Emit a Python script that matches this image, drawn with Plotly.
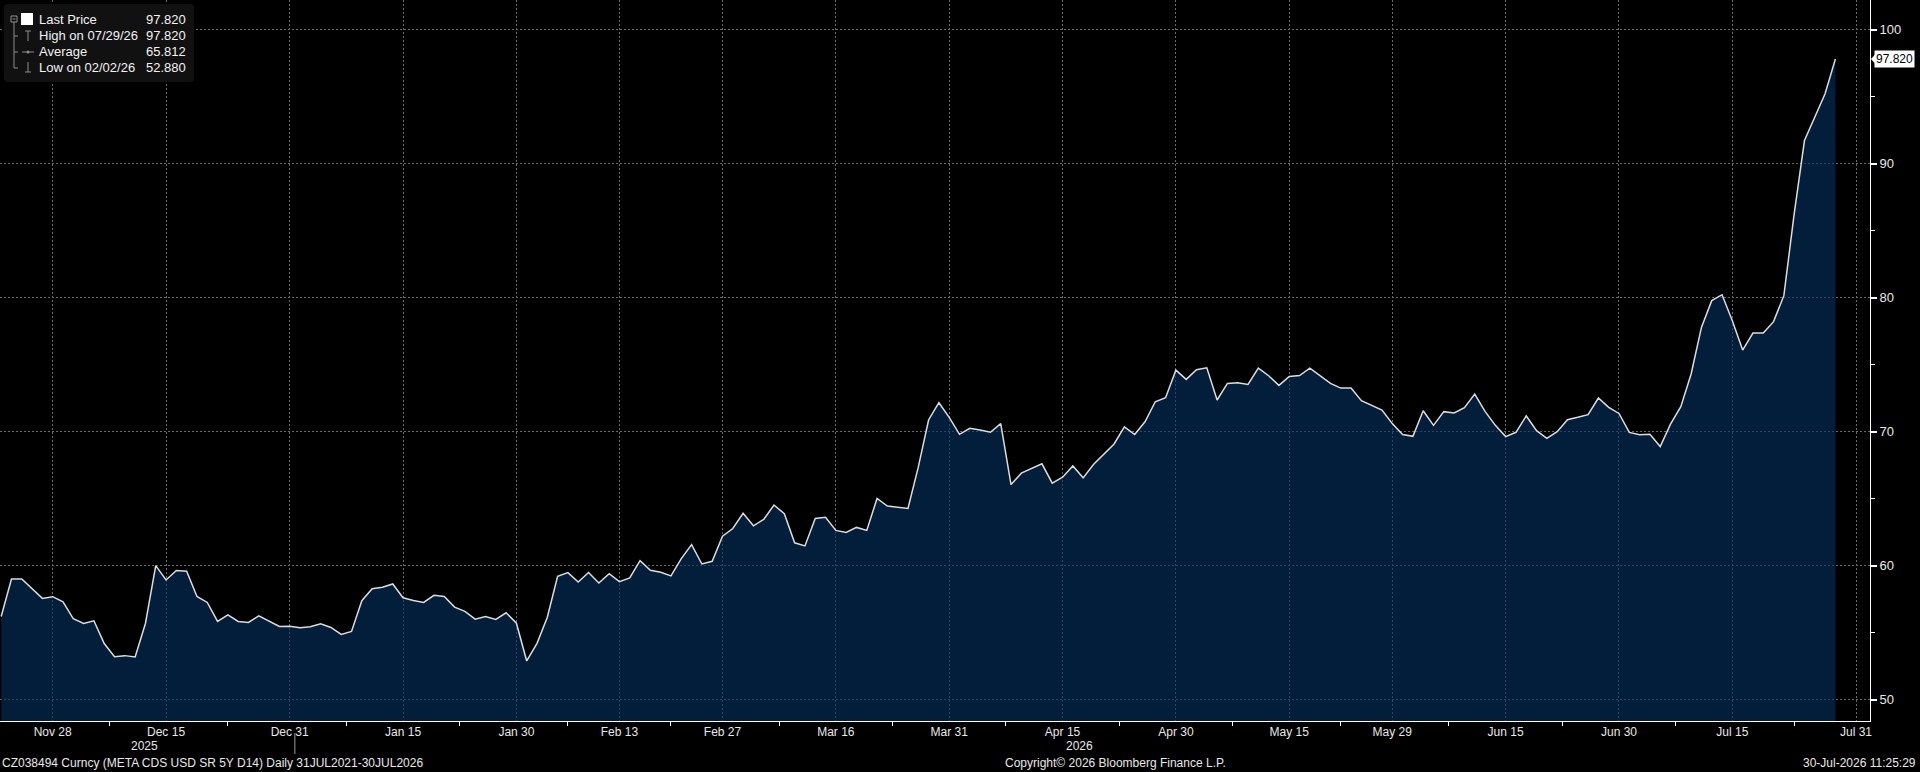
import numpy as np
import pandas as pd
import plotly.graph_objects as go

# META 5Y senior CDS, daily (weekdays)
START = "2025-11-21"
END = "2026-07-29"

cds = [
    # Nov 21 - Jan 14
    56.2, 59.0, 59.0, 58.25, 57.55, 57.68, 57.3, 56.03, 55.68, 55.88,
    54.18, 53.2, 53.28, 53.18, 55.68, 60.0, 58.93, 59.63, 59.58, 57.7,
    57.25, 55.83, 56.33, 55.83, 55.76, 56.25, 55.83, 55.46, 55.48, 55.36,
    55.43, 55.66, 55.38, 54.86, 55.08, 57.38, 58.28, 58.38, 58.63,
    # Jan 15 - Mar 11
    57.6, 57.4, 57.25, 57.78, 57.7, 56.9, 56.58, 56.0, 56.2, 55.98,
    56.48, 55.7, 52.88, 54.2, 56.15, 59.2, 59.48, 58.78, 59.48, 58.7,
    59.4, 58.8, 59.08, 60.37, 59.65, 59.5, 59.23, 60.52, 61.57, 60.12,
    60.32, 62.2, 62.77, 63.9, 62.97, 63.45, 64.52, 63.87, 61.7, 61.47,
    # Mar 12 - May 5
    63.52, 63.6, 62.63, 62.48, 62.85, 62.63, 65.01, 64.44, 64.37, 64.27,
    67.35, 70.87, 72.16, 71.07, 69.8, 70.25, 70.12, 69.95, 70.6, 66.05,
    66.9, 67.27, 67.6, 66.15, 66.6, 67.44, 66.55, 67.54, 68.31, 69.08,
    70.35, 69.78, 70.74, 72.23, 72.53, 74.59, 73.9, 74.62, 74.76,
    # May 6 - Jun 29
    72.36, 73.6, 73.65, 73.52, 74.74, 74.17, 73.45, 74.12, 74.19, 74.74,
    74.14, 73.6, 73.25, 73.25, 72.31, 71.99, 71.61, 70.6, 69.78, 69.65,
    71.56, 70.47, 71.49, 71.39, 71.79, 72.8, 71.51, 70.47, 69.63, 69.95,
    71.17, 70.07, 69.5, 70.0, 70.89, 71.07, 71.27, 72.51, 71.81,
    # Jun 30 - Jul 29
    71.36, 69.94, 69.76, 69.81, 68.89, 70.56, 71.86, 74.3, 77.78, 79.78,
    80.22, 78.28, 76.09, 77.36, 77.36, 78.21, 80.15, 86.25, 91.73, 93.47,
    95.22, 97.82,
]
dates = pd.bdate_range(START, END)
assert len(dates) == len(cds)

AVERAGE = 65.812

x_tick_dates = ["2025-11-28", "2025-12-15", "2025-12-31", "2026-01-15", "2026-01-30",
                "2026-02-13", "2026-02-27", "2026-03-16", "2026-03-31", "2026-04-15",
                "2026-04-30", "2026-05-15", "2026-05-29", "2026-06-15", "2026-06-30",
                "2026-07-15", "2026-07-31"]
x_tick_labels = ["Nov 28", "Dec 15", "Dec 31", "Jan 15", "Jan 30", "Feb 13", "Feb 27",
                 "Mar 16", "Mar 31", "Apr 15", "Apr 30", "May 15", "May 29", "Jun 15",
                 "Jun 30", "Jul 15", "Jul 31"]
y_ticks = [50, 60, 70, 80, 90, 100]
y_minor = [55, 65, 75, 85, 95]
years = ["2025", "2026"]

FONT = "Liberation Sans, Arial, sans-serif"
GRID = "#6a6a6a"
TXT = "#e8e8e8"

# plot area in pixels, used to place the header box / footer texts
PW, PH = 1870, 721


def px(x):
    return x / PW


def py(y):
    return 1 - y / PH


# small tick marks sit half way between the labelled dates (in business days)
base = np.datetime64(x_tick_dates[0])
idx = [np.busday_count(base, np.datetime64(d)) for d in x_tick_dates]
mid_ticks = []
for a, b in zip(idx[:-1], idx[1:]):
    m = (a + b) / 2
    d = np.busday_offset(base, int(np.floor(m)), roll="forward")
    mid_ticks.append(pd.Timestamp(d) + pd.Timedelta(hours=24 * (m - np.floor(m))))

fig = go.Figure()
fig.add_trace(go.Scatter(
    x=dates, y=cds, mode="lines",
    line=dict(color="#dcdcdc", width=1.5),
    fill="tozeroy", fillcolor="rgba(3,48,94,0.62)",
    hoverinfo="x+y",
))

fig.update_layout(
    width=1920, height=772,
    margin=dict(l=0, r=50, t=0, b=51),
    paper_bgcolor="black", plot_bgcolor="black",
    showlegend=False,
    font=dict(family=FONT, size=12, color=TXT),
    xaxis=dict(
        type="date",
        range=["2025-11-20 21:16", "2026-08-03 08:37"],
        rangebreaks=[dict(bounds=["sat", "mon"])],
        tickmode="array", tickvals=x_tick_dates, ticktext=x_tick_labels,
        ticks="", showgrid=True, gridcolor=GRID, griddash="2px,2px", gridwidth=1,
        showline=True, linecolor="white", linewidth=1, zeroline=False,
        tickfont=dict(size=12, color=TXT),
        minor=dict(tickmode="array", tickvals=mid_ticks, ticks="outside",
                   ticklen=4, tickcolor="white", tickwidth=1, showgrid=False),
    ),
    yaxis=dict(
        side="right", range=[48.4, 102.22],
        tickmode="array", tickvals=y_ticks, ticktext=[str(v) for v in y_ticks],
        ticks="outside", ticklen=6, tickwidth=2, tickcolor="white",
        showgrid=True, gridcolor=GRID, griddash="2px,2px", gridwidth=1,
        showline=True, linecolor="white", linewidth=1, zeroline=False,
        tickfont=dict(size=13, color=TXT),
        minor=dict(tickmode="array", tickvals=y_minor, ticks="outside",
                   ticklen=4, tickcolor="white", tickwidth=1, showgrid=False),
    ),
)

last = cds[-1]
hi_i = int(np.argmax(cds))
lo_i = int(np.argmin(cds))

annotations = []
shapes = []

# last price tag on the right axis
annotations.append(dict(
    xref="paper", yref="y", x=1, y=last, xanchor="left", yanchor="middle",
    xshift=4, text=f"{last:.3f}", showarrow=False,
    font=dict(size=12, color="black", family=FONT),
    bgcolor="white", borderpad=1,
))
shapes.append(dict(
    type="path", xref="paper", yref="y", layer="above",
    path=f"M {px(1871)} {last} L {px(1877)} {last + 0.5} L {px(1877)} {last - 0.5} Z",
    fillcolor="white", line=dict(width=0),
))

# header box (top left)
x0, x1, y0, y1, r = 4, 194, 4, 82, 4
pts = [
    ("M", x0 + r, y0), ("L", x1 - r, y0), ("Q", x1, y0, x1, y0 + r),
    ("L", x1, y1 - r), ("Q", x1, y1, x1 - r, y1), ("L", x0 + r, y1),
    ("Q", x0, y1, x0, y1 - r), ("L", x0, y0 + r), ("Q", x0, y0, x0 + r, y0),
]
path = ""
for p in pts:
    if p[0] == "Q":
        path += f"Q {px(p[1])} {py(p[2])} {px(p[3])} {py(p[4])} "
    else:
        path += f"{p[0]} {px(p[1])} {py(p[2])} "
shapes.append(dict(type="path", xref="paper", yref="paper", path=path + "Z",
                   fillcolor="#111111", line=dict(width=0), layer="above"))

rows = [
    ("Last Price", f"{last:.3f}"),
    (f"High on {dates[hi_i]:%m/%d/%y}", f"{cds[hi_i]:.3f}"),
    ("Average", f"{AVERAGE:.3f}"),
    (f"Low on {dates[lo_i]:%m/%d/%y}", f"{cds[lo_i]:.3f}"),
]
for i, (lab, val) in enumerate(rows):
    yy = 20 + 16 * i
    annotations.append(dict(xref="paper", yref="paper", x=px(37), y=py(yy),
                            xanchor="left", yanchor="middle", text=lab, showarrow=False,
                            font=dict(size=13, color="#f2f2f2")))
    annotations.append(dict(xref="paper", yref="paper", x=px(188), y=py(yy),
                            xanchor="right", yanchor="middle", text=val, showarrow=False,
                            font=dict(size=13, color="#f2f2f2")))

ICON = "#8c8c8c"


def seg(xa, ya, xb, yb, color=ICON, w=1):
    shapes.append(dict(type="line", xref="paper", yref="paper", layer="above",
                       x0=px(xa), y0=py(ya), x1=px(xb), y1=py(yb),
                       line=dict(color=color, width=w)))


# collapse box and tree lines
shapes.append(dict(type="rect", xref="paper", yref="paper", layer="above",
                   x0=px(11), x1=px(17), y0=py(22), y1=py(16),
                   line=dict(color=ICON, width=1), fillcolor="rgba(0,0,0,0)"))
seg(12.5, 19, 15.5, 19)
seg(14, 22, 14, 68)
for yy in (36, 52, 68):
    seg(14, yy, 18, yy)
# white series swatch
shapes.append(dict(type="rect", xref="paper", yref="paper", layer="above",
                   x0=px(21), x1=px(33), y0=py(25), y1=py(13),
                   line=dict(width=0), fillcolor="white"))
# high marker
seg(28, 31, 28, 41)
seg(25, 31, 31, 31)
# average marker
seg(22, 52, 34, 52)
shapes.append(dict(type="circle", xref="paper", yref="paper", layer="above",
                   x0=px(26.5), x1=px(29.5), y0=py(53.5), y1=py(50.5),
                   line=dict(width=0), fillcolor=ICON))
# low marker
seg(28, 62, 28, 72)
seg(25, 72, 31, 72)

# year labels under the date axis
annotations.append(dict(xref="paper", yref="paper", x=px(144), y=py(746), text=years[0],
                        showarrow=False, xanchor="center", yanchor="middle",
                        font=dict(size=12, color=TXT)))
annotations.append(dict(xref="paper", yref="paper", x=px(1079), y=py(746), text=years[1],
                        showarrow=False, xanchor="center", yanchor="middle",
                        font=dict(size=12, color=TXT)))
shapes.append(dict(type="line", xref="x", yref="paper", x0="2025-12-31 12:00",
                   x1="2025-12-31 12:00", y0=py(733), y1=py(754),
                   line=dict(color="#9a9a9a", width=1)))

# footer
annotations.append(dict(xref="paper", yref="paper", x=0, y=py(763), xanchor="left",
                        yanchor="middle", showarrow=False,
                        text="CZ038494 Curncy (META CDS USD SR 5Y D14) Daily 31JUL2021-30JUL2026",
                        font=dict(size=12, color=TXT)))
annotations.append(dict(xref="paper", yref="paper", x=px(1115), y=py(763), xanchor="center",
                        yanchor="middle", showarrow=False,
                        text="Copyright© 2026 Bloomberg Finance L.P.",
                        font=dict(size=12, color=TXT)))
annotations.append(dict(xref="paper", yref="paper", x=px(1918), y=py(763), xanchor="right",
                        yanchor="middle", showarrow=False,
                        text="30-Jul-2026 11:25:29",
                        font=dict(size=12, color=TXT)))

fig.update_layout(annotations=annotations, shapes=shapes)

fig.write_html("out.html", config={"displayModeBar": False},
               post_script="document.body.style.margin='0';")
